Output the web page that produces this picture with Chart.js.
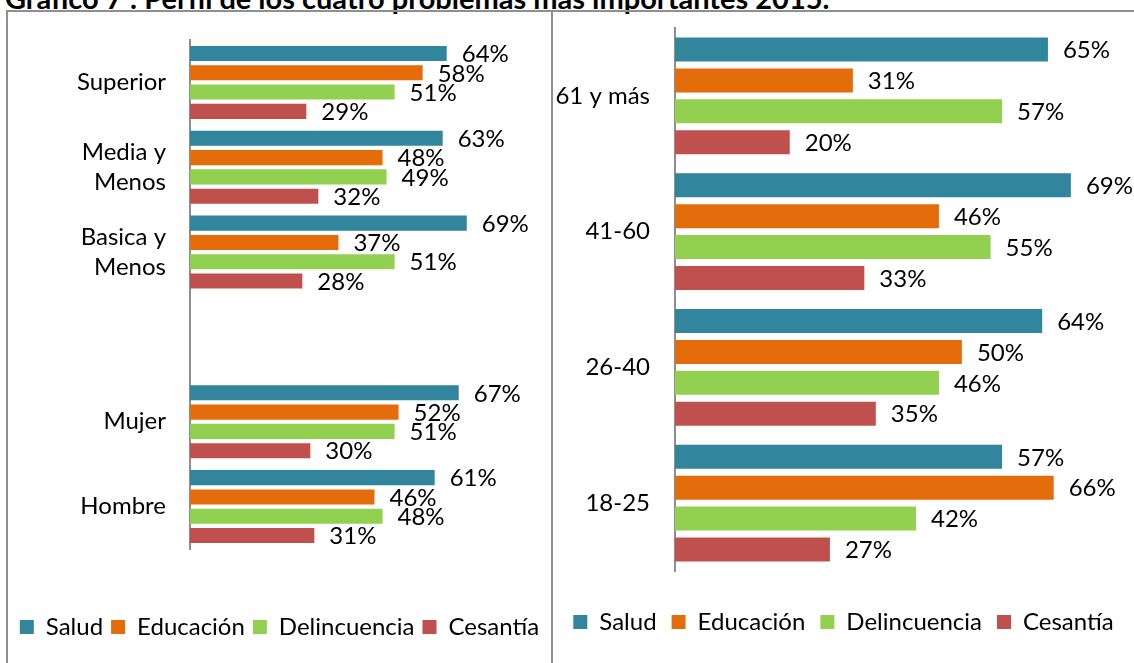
<!DOCTYPE html>
<html>
<head>
<meta charset="utf-8">
<script src="https://cdn.jsdelivr.net/npm/chart.js@4.4.1/dist/chart.umd.min.js"></script>
<style>
  body { margin: 0; background: #fff; width: 1134px; height: 663px; overflow: hidden; position: relative; font-family: Lato, sans-serif; }
  #title { position: absolute; left: 5px; top: -17px; font: bold 29px/29px Lato, sans-serif; white-space: nowrap; color: #000; }
  #frame { position: absolute; left: 6px; top: 10px; width: 1200px; height: 700px; border-top: 2px solid #8f8f8f; border-left: 2px solid #8f8f8f; }
  #divider { position: absolute; left: 551px; top: 10px; width: 2px; height: 700px; background: #8f8f8f; }
  canvas { position: absolute; }
  #left { left: 8px; top: 12px; }
  #right { left: 553px; top: 12px; }
</style>
</head>
<body>
<div id="title">Gráfico 7 : Perfil de los cuatro problemas más importantes 2015.</div>
<div id="frame"></div>
<div id="divider"></div>
<canvas id="left" width="543" height="651"></canvas>
<canvas id="right" width="581" height="651"></canvas>
<script>
// series names and colours
var seriesNames = ["Salud", "Educación", "Delincuencia", "Cesantía"];
var seriesColors = ["#31859C", "#E46C0A", "#92D050", "#C0504D"];

// left panel: education level and sex (blank row between the two groups)
var leftLabels = [["Superior"], ["Media y", "Menos"], ["Basica y", "Menos"], "", "Mujer", "Hombre"];
var leftSalud = [64, 63, 69, null, 67, 61];
var leftEducacion = [58, 48, 37, null, 52, 46];
var leftDelincuencia = [51, 49, 51, null, 51, 48];
var leftCesantia = [29, 32, 28, null, 30, 31];

// right panel: age groups
var rightLabels = ["61 y más", "41-60", "26-40", "18-25"];
var rightSalud = [65, 69, 64, 57];
var rightEducacion = [31, 46, 50, 66];
var rightDelincuencia = [57, 55, 46, 42];
var rightCesantia = [20, 33, 35, 27];

var FONT = "Lato, sans-serif";

// draws "xx%" to the right of every bar
var valueLabels = {
  id: "valueLabels",
  afterDatasetsDraw: function(chart) {
    var ctx = chart.ctx;
    ctx.save();
    ctx.font = "24px " + FONT;
    ctx.fillStyle = "#000";
    ctx.textBaseline = "middle";
    ctx.textAlign = "left";
    chart.data.datasets.forEach(function(ds, i) {
      chart.getDatasetMeta(i).data.forEach(function(bar, j) {
        if (ds.data[j] == null) return;
        ctx.fillText(ds.data[j] + "%", bar.x + 15, bar.y + 1);
      });
    });
    ctx.restore();
  }
};

function makeDatasets(values) {
  return values.map(function(v, i) {
    return {
      label: seriesNames[i],
      data: v,
      backgroundColor: seriesColors[i],
      borderWidth: 0,
      categoryPercentage: 0.91,
      barPercentage: 0.78
    };
  });
}

function makeChart(id, labels, values, opt) {
  var ctx = document.getElementById(id).getContext("2d");
  return new Chart(ctx, {
    type: "bar",
    data: { labels: labels, datasets: makeDatasets(values) },
    plugins: [valueLabels],
    options: {
      indexAxis: "y",
      responsive: false,
      animation: false,
      layout: { padding: { left: 0, right: 0, top: opt.padTop, bottom: opt.padBottom } },
      scales: {
        x: {
          min: 0,
          max: opt.max,
          display: true,
          grid: { display: false },
          border: { display: false },
          ticks: { display: false },
          afterFit: function(s) { s.height = opt.gapBottom; }
        },
        y: {
          grid: { display: false },
          border: { display: true, color: "#8e8e8e", width: 2 },
          ticks: {
            color: "#000",
            padding: opt.tickPad,
            font: { family: FONT, size: 24, lineHeight: 1.25 },
            autoSkip: false
          },
          afterFit: function(s) {
            s.width = opt.axisWidth;
            // labels sit mid-category, no extra room needed above/below
            s.paddingTop = 0;
            s.paddingBottom = 0;
          }
        }
      },
      plugins: {
        legend: {
          position: "bottom",
          labels: {
            boxWidth: 14,
            boxHeight: 14,
            padding: opt.legendPad,
            color: "#000",
            font: { family: FONT, size: 24 }
          }
        },
        tooltip: { enabled: false }
      }
    }
  });
}

makeChart("left", leftLabels,
  [leftSalud, leftEducacion, leftDelincuencia, leftCesantia],
  { max: 90, axisWidth: 182, padTop: 28, padBottom: 14, gapBottom: 58, legendPad: 8, tickPad: 16 });

makeChart("right", rightLabels,
  [rightSalud, rightEducacion, rightDelincuencia, rightCesantia],
  { max: 80, axisWidth: 122, padTop: 16, padBottom: 19, gapBottom: 24, legendPad: 15, tickPad: 17 });
</script>
</body>
</html>
